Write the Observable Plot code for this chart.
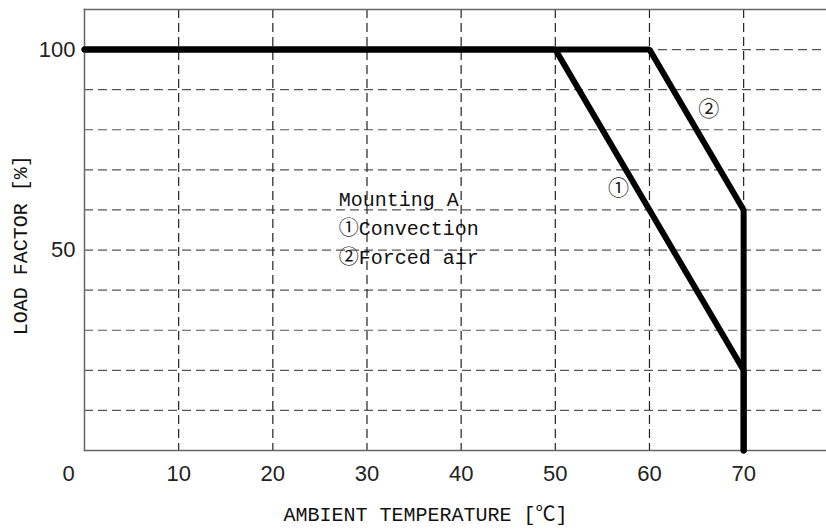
<!DOCTYPE html>
<html>
<head>
<meta charset="utf-8">
<script src="https://cdn.jsdelivr.net/npm/d3@7"></script>
<script src="https://cdn.jsdelivr.net/npm/@observablehq/plot@0.6"></script>
<style>
  html, body { margin: 0; padding: 0; background: #fff; }
</style>
</head>
<body>
<div id="chart"></div>
<script>
// ---- data ----
const xTickLabels = [10, 20, 30, 40, 50, 60, 70];
const zeroLabel = [0];
const yTickLabels = [50, 100];
const gridX = [10, 20, 30, 40, 50, 60, 70];
const gridY = [10, 20, 30, 40, 50, 60, 70, 80, 90, 100];

const convectionTemp = [0, 50, 70, 70];
const convectionLoad = [100, 100, 20, 0];
const forcedTemp = [0, 60, 70, 70];
const forcedLoad = [100, 100, 60, 0];

const curveMarkers = [
  {t: 56.7, load: 65.5, label: "①"},
  {t: 66.3, load: 85.0, label: "②"}
];
const noteLines = [
  {t: 27, load: 62.5, text: "Mounting A"},
  {t: 27, load: 55.3, text: "①Convection"},
  {t: 27, load: 48.0, text: "②Forced air"}
];
const xTitle = "AMBIENT TEMPERATURE [℃]";
const yTitle = "LOAD FACTOR [%]";

const convection = convectionTemp.map((t, i) => ({t, load: convectionLoad[i]}));
const forced = forcedTemp.map((t, i) => ({t, load: forcedLoad[i]}));

const monoFont = "'Liberation Mono', 'DejaVu Sans Mono', 'Noto Sans CJK KR', monospace";
const tickFont = "'Liberation Sans Narrow', 'Arial Narrow', 'Liberation Sans', sans-serif";

const chart = Plot.plot({
  width: 826,
  height: 532,
  marginLeft: 84,
  marginRight: 0,
  marginTop: 9,
  marginBottom: 82,
  x: {domain: [0, 78.8], axis: null},
  y: {domain: [0, 110], axis: null},
  style: {background: "#fff"},
  marks: [
    Plot.ruleY(gridY, {stroke: "#555", strokeWidth: 1.2, strokeDasharray: "9,5"}),
    Plot.ruleX(gridX, {stroke: "#222", strokeWidth: 1.2, strokeDasharray: "9,5"}),
    Plot.frame({anchor: "top", stroke: "#666", strokeWidth: 1.5}),
    Plot.frame({anchor: "bottom", stroke: "#666", strokeWidth: 1.5}),
    Plot.frame({anchor: "left", stroke: "#666", strokeWidth: 1.5}),
    Plot.line(forced, {x: "t", y: "load", stroke: "#000", strokeWidth: 6, strokeLinejoin: "miter"}),
    Plot.line(convection, {x: "t", y: "load", stroke: "#000", strokeWidth: 6, strokeLinejoin: "miter"}),
    Plot.text(curveMarkers, {x: "t", y: "load", text: "label", fontSize: 21, fill: "#222",
      fontFamily: "'Noto Sans CJK KR', 'DejaVu Sans', sans-serif"}),
    Plot.text(noteLines, {x: "t", y: "load", text: "text", textAnchor: "start", fontSize: 20, fill: "#111",
      fontFamily: monoFont}),
    Plot.text(xTickLabels, {x: d => d, y: 0, text: d => String(d), dy: 23, fontSize: 22, fill: "#222",
      fontFamily: tickFont, clip: false}),
    Plot.text(zeroLabel, {x: d => d, y: 0, text: d => String(d), dy: 23, dx: -16, fontSize: 22, fill: "#222",
      fontFamily: tickFont, clip: false}),
    Plot.text(yTickLabels, {x: 0, y: d => d, text: d => String(d), dx: -9, textAnchor: "end", fontSize: 22, fill: "#222",
      fontFamily: tickFont, clip: false}),
    Plot.text([xTitle], {frameAnchor: "bottom", text: d => d, dy: 70, dx: -30, fontSize: 20, fill: "#111",
      fontFamily: monoFont, clip: false}),
    Plot.text([yTitle], {x: -6.8, y: 51.2, text: d => d, rotate: -90, fontSize: 20, fill: "#111",
      fontFamily: monoFont, clip: false})
  ]
});
document.getElementById("chart").appendChild(chart);
</script>
</body>
</html>
